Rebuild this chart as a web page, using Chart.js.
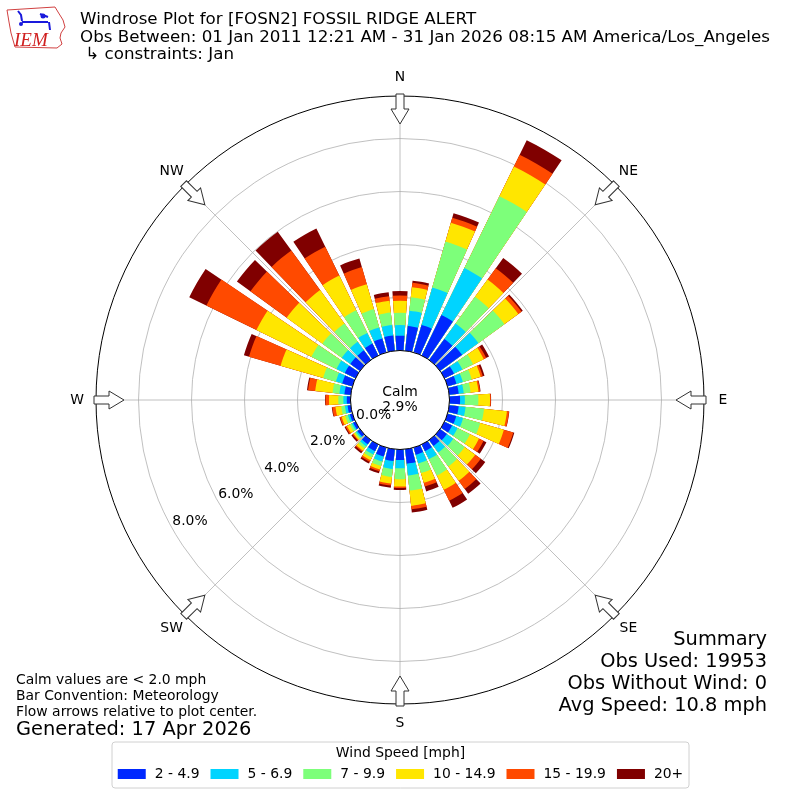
<!DOCTYPE html>
<html>
<head>
<meta charset="utf-8">
<script src="https://cdn.jsdelivr.net/npm/chart.js@4.4.1/dist/chart.umd.min.js"></script>
<style>
  html, body { margin: 0; padding: 0; background: #fff; }
  #wrap { width: 800px; height: 800px; }
</style>
</head>
<body>
<div id="wrap"><canvas id="rose" width="800" height="800"></canvas></div>
<script>
// Directions (deg, where the wind comes from) and speed bins
const directions = [0, 10, 20, 30, 40, 50, 60, 70, 80, 90, 100, 110, 120, 130, 140, 150, 160, 170,
                    180, 190, 200, 210, 220, 230, 240, 250, 260, 270, 280, 290, 300, 310, 320, 330, 340, 350];
const speedBins = ['2 - 4.9', '5 - 6.9', '7 - 9.9', '10 - 14.9', '15 - 19.9', '20+'];
const binColors = ['#0028ff', '#00d4ff', '#7dff7a', '#ffe600', '#ff4a00', '#800000'];

// Percent of observations per direction, one list per speed bin
const pct2to5 = [0.56, 0.94, 1.08, 1.70, 0.98, 1.03, 0.40, 0.35, 0.36, 0.40, 0.36, 0.34, 0.32, 0.32, 0.28, 0.28, 0.28, 0.55,
                 0.40, 0.45, 0.35, 0.28, 0.20, 0.12, 0.10, 0.10, 0.12, 0.14, 0.24, 0.40, 0.45, 0.45, 0.45, 0.50, 0.55, 0.58];
const pct5to7 = [0.40, 0.58, 1.47, 1.97, 0.72, 0.76, 0.35, 0.25, 0.19, 0.18, 0.26, 0.27, 0.23, 0.30, 0.30, 0.34, 0.34, 0.45,
                 0.31, 0.30, 0.20, 0.14, 0.10, 0.06, 0.06, 0.08, 0.10, 0.13, 0.19, 0.25, 0.35, 0.40, 0.40, 0.45, 0.43, 0.40];
const pct7to10 = [0.46, 0.51, 1.80, 3.02, 1.25, 1.21, 0.45, 0.35, 0.26, 0.51, 0.70, 0.67, 0.52, 0.53, 0.65, 0.68, 0.38, 0.57,
                  0.41, 0.30, 0.17, 0.13, 0.10, 0.06, 0.08, 0.10, 0.14, 0.19, 0.26, 0.50, 1.05, 0.90, 0.85, 0.95, 0.72, 0.47];
const pct10to15 = [0.46, 0.38, 0.74, 1.25, 0.80, 0.65, 0.45, 0.35, 0.30, 0.44, 0.87, 0.93, 0.38, 0.49, 0.67, 0.60, 0.38, 0.58,
                   0.28, 0.25, 0.14, 0.11, 0.10, 0.06, 0.12, 0.14, 0.22, 0.35, 0.66, 1.67, 2.31, 1.67, 1.56, 1.46, 0.98, 0.45];
const pct15to20 = [0.20, 0.17, 0.20, 0.49, 0.53, 0.15, 0.10, 0.08, 0.06, 0.03, 0.08, 0.37, 0.19, 0.26, 0.38, 0.46, 0.15, 0.13,
                   0.05, 0.08, 0.07, 0.07, 0.05, 0.04, 0.06, 0.07, 0.12, 0.13, 0.27, 1.24, 2.10, 1.69, 1.85, 1.21, 0.67, 0.17];
const pct20up = [0.17, 0.08, 0.17, 0.61, 0.48, 0.06, 0.12, 0.07, 0.02, 0.01, 0.01, 0.04, 0.12, 0.21, 0.23, 0.30, 0.19, 0.12,
                 0.08, 0.08, 0.08, 0.07, 0.07, 0.06, 0.04, 0.02, 0.02, 0.02, 0.04, 0.20, 0.72, 0.63, 0.87, 0.76, 0.34, 0.15];

const calmPercent = 2.9;
const ringTicks = [0, 2, 4, 6, 8];
const compassLabels = ['N', 'NE', 'E', 'SE', 'S', 'SW', 'W', 'NW'];

const titleLines = [
  'Windrose Plot for [FOSN2] FOSSIL RIDGE ALERT',
  'Obs Between: 01 Jan 2011 12:21 AM - 31 Jan 2026 08:15 AM America/Los_Angeles',
  ' \u21b3 constraints: Jan'
];
const summaryLines = ['Summary', 'Obs Used: 19953', 'Obs Without Wind: 0', 'Avg Speed: 10.8 mph'];
const noteLines = ['Calm values are < 2.0 mph', 'Bar Convention: Meteorology', 'Flow arrows relative to plot center.'];
const generatedText = 'Generated: 17 Apr 2026';
const legendTitle = 'Wind Speed [mph]';

// radial axis: the calm circle takes the inner part, 0% sits on its edge
const R_MIN = -1.868;
const R_MAX = 9.604;
const BAR_DEG = 8;
const GAP_DEG = 2;
const FONT = '"DejaVu Sans"';
const SMALL = '13.9px ' + FONT;   // 10pt
const BIG = '19.4px ' + FONT;     // 14pt

// stack the bins: each dataset holds the running total, drawn from the outside in
const binSeries = [pct2to5, pct5to7, pct7to10, pct10to15, pct15to20, pct20up];
const stacked = binSeries.map((_, k) =>
  directions.map((d, i) => binSeries.slice(0, k + 1).reduce((acc, s) => acc + s[i], 0)));

// each direction is a bar slot followed by a small empty slot
const slotLabels = directions.flatMap(d => [String(d), '']);

const datasets = speedBins.map((label, k) => ({
  label: label,
  data: stacked[k].flatMap(v => [v, R_MIN]),
  backgroundColor: binColors[k],
  borderWidth: 0,
  angle: ctx => (ctx.dataIndex % 2 === 0 ? BAR_DEG : GAP_DEG)
}));

function drawArrow(ctx, cx, cy, a, rTail, rTip) {
  const shaftHalf = 4, headHalf = 9, headLen = 15;
  ctx.save();
  ctx.translate(cx, cy);
  ctx.rotate(a);
  ctx.beginPath();
  ctx.moveTo(-shaftHalf, -rTail);
  ctx.lineTo(shaftHalf, -rTail);
  ctx.lineTo(shaftHalf, -(rTip + headLen));
  ctx.lineTo(headHalf, -(rTip + headLen));
  ctx.lineTo(0, -rTip);
  ctx.lineTo(-headHalf, -(rTip + headLen));
  ctx.lineTo(-shaftHalf, -(rTip + headLen));
  ctx.closePath();
  ctx.fillStyle = '#fff';
  ctx.fill();
  ctx.strokeStyle = '#333';
  ctx.lineWidth = 1;
  ctx.stroke();
  ctx.restore();
}

function drawLogo(ctx) {
  ctx.save();
  // state outline
  const pts = [[7, 10], [55, 7], [58, 12], [63, 20], [65, 27], [61, 33], [60, 38], [62, 44], [57, 48],
               [15, 47], [13, 40], [11, 33], [9, 22]];
  ctx.beginPath();
  pts.forEach((p, i) => (i ? ctx.lineTo(p[0], p[1]) : ctx.moveTo(p[0], p[1])));
  ctx.closePath();
  ctx.strokeStyle = '#d04040';
  ctx.lineWidth = 1;
  ctx.stroke();
  // blue network
  ctx.strokeStyle = '#1a1adc';
  ctx.fillStyle = '#1a1adc';
  ctx.lineWidth = 2;
  ctx.beginPath();
  ctx.moveTo(18, 11); ctx.lineTo(21, 15); ctx.lineTo(22, 21);
  ctx.moveTo(22, 22); ctx.lineTo(48, 22);
  ctx.moveTo(40, 14); ctx.lineTo(48, 17);
  ctx.moveTo(49, 22); ctx.lineTo(50, 30);
  ctx.stroke();
  ctx.beginPath(); ctx.arc(21, 24, 2, 0, Math.PI * 2); ctx.fill();
  ctx.beginPath(); ctx.arc(43, 16, 2.5, 0, Math.PI * 2); ctx.fill();
  ctx.font = 'italic 19px "Liberation Serif"';
  ctx.fillStyle = '#d02020';
  ctx.textAlign = 'left';
  ctx.textBaseline = 'alphabetic';
  ctx.fillText('IEM', 14, 46);
  ctx.restore();
}

const roseDecor = {
  id: 'roseDecor',
  beforeDatasetsDraw(chart) {
    const s = chart.scales.r, ctx = chart.ctx, R = s.drawingArea;
    ctx.save();
    ctx.strokeStyle = '#b0b0b0';
    ctx.lineWidth = 0.8;
    for (let k = 0; k < 8; k++) {
      const a = k * Math.PI / 4;
      ctx.beginPath();
      ctx.moveTo(s.xCenter, s.yCenter);
      ctx.lineTo(s.xCenter + R * Math.sin(a), s.yCenter - R * Math.cos(a));
      ctx.stroke();
    }
    ctx.restore();
  },
  afterDatasetsDraw(chart) {
    const s = chart.scales.r, ctx = chart.ctx, R = s.drawingArea;
    const cx = s.xCenter, cy = s.yCenter;
    ctx.save();
    // calm circle
    const rc = s.getDistanceFromCenterForValue(0);
    ctx.beginPath();
    ctx.arc(cx, cy, rc, 0, Math.PI * 2);
    ctx.fillStyle = '#fff';
    ctx.fill();
    ctx.strokeStyle = '#000';
    ctx.lineWidth = 1;
    ctx.stroke();
    ctx.fillStyle = '#000';
    ctx.font = SMALL;
    ctx.textAlign = 'center';
    ctx.textBaseline = 'middle';
    ctx.fillText('Calm', cx, cy - 8);
    ctx.fillText(calmPercent.toFixed(1) + '%', cx, cy + 7);
    // ring labels along 240 deg
    const la = 240 * Math.PI / 180;
    ringTicks.forEach(v => {
      const d = s.getDistanceFromCenterForValue(v) - 19;
      ctx.fillText(v.toFixed(1) + '%', cx + d * Math.sin(la), cy - d * Math.cos(la));
    });
    // compass arrows and names
    compassLabels.forEach((lab, k) => {
      const a = k * Math.PI / 4;
      drawArrow(ctx, cx, cy, a, R + 2, R - 28);
      const d = R + 19;
      ctx.fillStyle = '#000';
      ctx.fillText(lab, cx + d * Math.sin(a), cy - d * Math.cos(a));
    });
    ctx.restore();
  },
  afterDraw(chart) {
    const ctx = chart.ctx;
    ctx.save();
    drawLogo(ctx);
    ctx.fillStyle = '#000';
    ctx.textBaseline = 'middle';
    ctx.textAlign = 'left';
    ctx.font = '16.7px ' + FONT;
    titleLines.forEach((t, i) => ctx.fillText(t, 80, 20 + i * 17.5));
    // notes bottom left
    ctx.font = SMALL;
    noteLines.forEach((t, i) => ctx.fillText(t, 16, 680 + i * 16));
    ctx.font = BIG;
    ctx.fillText(generatedText, 16, 730);
    // summary bottom right
    ctx.textAlign = 'right';
    summaryLines.forEach((t, i) => ctx.fillText(t, 767, 640 + i * 22));
    // legend
    const bx = 112, by = 742, bw = 577, bh = 46;
    ctx.beginPath();
    ctx.roundRect(bx, by, bw, bh, 3);
    ctx.fillStyle = '#fff';
    ctx.fill();
    ctx.strokeStyle = '#d0d0d0';
    ctx.lineWidth = 1;
    ctx.stroke();
    ctx.fillStyle = '#000';
    ctx.textAlign = 'center';
    ctx.font = SMALL;
    ctx.fillText(legendTitle, bx + bw / 2, 753);
    ctx.textAlign = 'left';
    const items = chart.data.datasets.map(ds => ({ text: ds.label, color: ds.backgroundColor }));
    const widths = items.map(it => ctx.measureText(it.text).width);
    const total = widths.reduce((a, w) => a + w, 0) + items.length * 37 + (items.length - 1) * 11;
    let x = bx + (bw - total) / 2;
    items.forEach((it, i) => {
      ctx.fillStyle = it.color;
      ctx.fillRect(x, 769, 28, 10);
      ctx.fillStyle = '#000';
      ctx.fillText(it.text, x + 37, 774);
      x += 37 + widths[i] + 11;
    });
    ctx.restore();
  }
};

Chart.defaults.font.family = 'DejaVu Sans';

new Chart(document.getElementById('rose'), {
  type: 'polarArea',
  data: { labels: slotLabels, datasets: datasets },
  options: {
    responsive: false,
    devicePixelRatio: 1,
    animation: false,
    layout: { padding: { left: 96, right: 96, top: 96, bottom: 96 } },
    scales: {
      r: {
        min: R_MIN,
        max: R_MAX,
        startAngle: -BAR_DEG / 2,
        afterBuildTicks: scale => {
          scale.ticks = ringTicks.concat([R_MAX]).map(v => ({ value: v }));
        },
        ticks: { display: false },
        pointLabels: { display: false },
        angleLines: { display: false },
        grid: {
          circular: true,
          color: ctx => (ctx.tick && ctx.tick.value === R_MAX ? '#000' : '#b0b0b0'),
          lineWidth: ctx => (ctx.tick && ctx.tick.value === R_MAX ? 1 : 0.8)
        }
      }
    },
    plugins: {
      legend: { display: false },
      tooltip: { enabled: false }
    }
  },
  plugins: [roseDecor]
});
</script>
</body>
</html>
